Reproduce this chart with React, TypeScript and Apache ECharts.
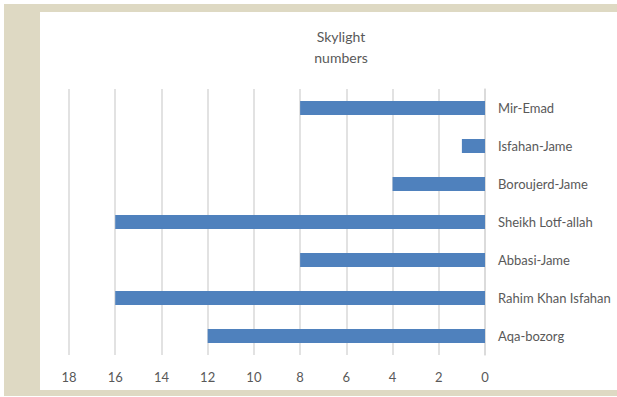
import React, { useEffect, useRef } from "react";
import * as echarts from "echarts";

const categories = [
  "Aqa-bozorg",
  "Rahim Khan Isfahan",
  "Abbasi-Jame",
  "Sheikh Lotf-allah",
  "Boroujerd-Jame",
  "Isfahan-Jame",
  "Mir-Emad",
];
const skylightValues = [12, 16, 8, 16, 4, 1, 8];
const titleText = "Skylight\nnumbers";

export default function App() {
  const ref = useRef<HTMLDivElement>(null);
  useEffect(() => {
    if (!ref.current) return;
    const chart = echarts.init(ref.current, null, { renderer: "svg" });
    chart.setOption({
      animation: false,
      backgroundColor: "transparent",
      textStyle: { fontFamily: "Lato, 'Open Sans', sans-serif" },
      title: {
        text: titleText,
        left: 336,
        textAlign: "center",
        top: 21,
        textStyle: {
          fontSize: 14,
          fontWeight: "normal",
          color: "#595959",
          lineHeight: 21,
          fontFamily: "Lato, 'Open Sans', sans-serif",
        },
      },
      grid: { left: 69, right: 132, top: 89, bottom: 42, containLabel: false },
      xAxis: {
        type: "value",
        inverse: true,
        min: 0,
        max: 18,
        interval: 2,
        axisLine: { show: false },
        axisTick: { show: false },
        axisLabel: { color: "#595959", fontSize: 13, margin: 15 },
        splitLine: { show: true, lineStyle: { color: "#D9D9D9", width: 1.5 } },
      },
      yAxis: {
        type: "category",
        position: "right",
        data: categories,
        axisLine: { show: true, lineStyle: { color: "#D9D9D9", width: 1.5 } },
        axisTick: { show: false },
        axisLabel: { color: "#595959", fontSize: 13, margin: 13 },
        splitLine: { show: false },
      },
      series: [
        {
          type: "bar",
          data: skylightValues,
          barWidth: 14,
          itemStyle: { color: "#4F81BD" },
        },
      ],
    });
    return () => chart.dispose();
  }, []);

  return (
    <div style={{ position: "fixed", left: 0, top: 0, width: 617, height: 397, background: "#fff" }}>
      <div style={{ position: "absolute", left: 4, top: 4, width: 613, height: 392, background: "#DED9C3" }} />
      <div style={{ position: "absolute", left: 40, top: 12, width: 577, height: 378, background: "#fff" }} />
      <div ref={ref} style={{ position: "absolute", left: 0, top: 0, width: 617, height: 397 }} />
    </div>
  );
}
